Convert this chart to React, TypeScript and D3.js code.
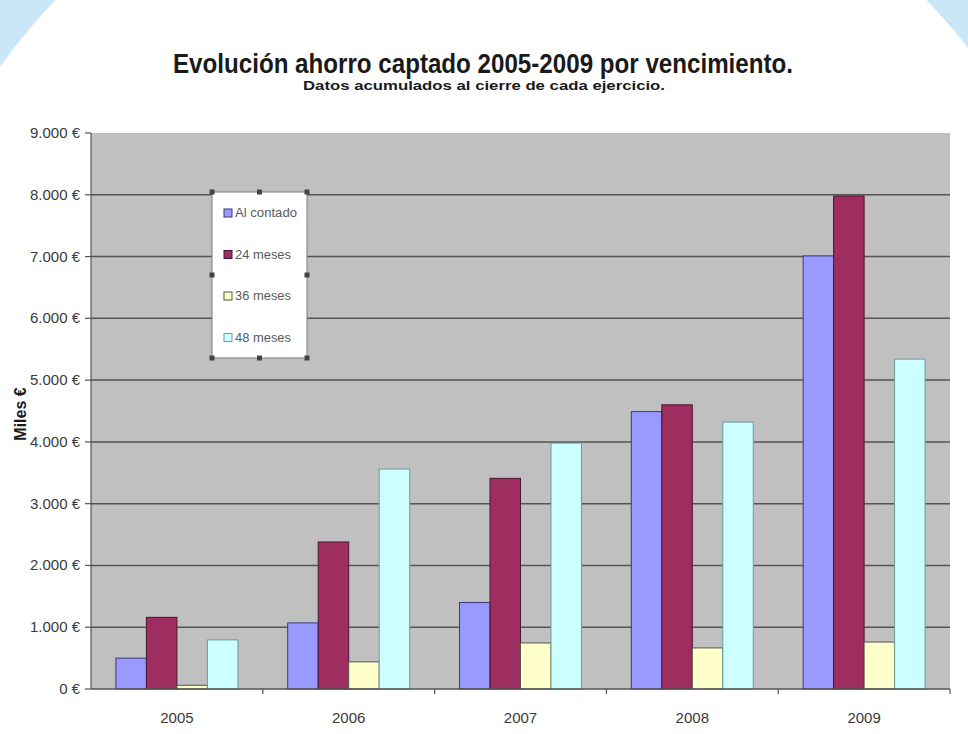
import * as d3 from 'd3';

const YEARS = ['2005', '2006', '2007', '2008', '2009'];
const SERIES = ['Al contado', '24 meses', '36 meses', '48 meses'];
const AL_CONTADO = [500, 1070, 1400, 4490, 7010];
const MESES_24 = [1160, 2380, 3410, 4600, 7980];
const MESES_36 = [60, 440, 745, 665, 760];
const MESES_48 = [795, 3560, 3980, 4320, 5340];
const Y_TICKS = [0, 1000, 2000, 3000, 4000, 5000, 6000, 7000, 8000, 9000];

const FILL = ['#9999ff', '#9e2e60', '#ffffcc', '#ccffff'];
const STROKE = ['#3a3a7a', '#4a1530', '#55554a', '#6f9a9a'];

const W = 968, H = 734;
const M = { left: 91, right: 950, top: 133, bottom: 689 };
const FONT = '"Liberation Sans", Arial, sans-serif';

export default function App() {
  const values = [AL_CONTADO, MESES_24, MESES_36, MESES_48];
  const x = d3.scaleBand<string>().domain(YEARS).range([M.left, M.right]).paddingInner(0.29).paddingOuter(0.145);
  const xs = d3.scaleBand<string>().domain(SERIES).range([0, x.bandwidth()]);
  const y = d3.scaleLinear().domain([0, 9000]).range([M.bottom, M.top]);
  const step = x.step();
  const fmt = (v: number) => d3.format(',')(v).replace(/,/g, '.') + ' €';

  return (
    <>
      <style>{`body{margin:0;}`}</style>
      <svg width={W} height={H} style={{ display: 'block', fontFamily: FONT }}>
        <rect width={W} height={H} fill="#c9e7f6" />
        <circle cx={491} cy={420} r={605} fill="#ffffff" />

        <text x={483} y={73} textAnchor="middle" fontSize={27} fontWeight="bold" fill="#1a1a1a"
          textLength={620} lengthAdjust="spacingAndGlyphs">
          Evolución ahorro captado 2005-2009 por vencimiento.
        </text>
        <text x={484} y={90} textAnchor="middle" fontSize={13} fontWeight="bold" fill="#1a1a1a"
          textLength={362} lengthAdjust="spacingAndGlyphs">
          Datos acumulados al cierre de cada ejercicio.
        </text>

        <rect x={M.left} y={M.top} width={M.right - M.left} height={M.bottom - M.top} fill="#c0c0c0" />
        {Y_TICKS.filter(t => t > 0 && t < 9000).map(t => (
          <line key={t} x1={M.left} x2={M.right} y1={y(t)} y2={y(t)} stroke="#555" strokeWidth={1.5} />
        ))}

        {YEARS.map((yr, i) => (
          <g key={yr}>
            {SERIES.map((s, j) => {
              const v = values[j][i];
              return (
                <rect key={s} x={(x(yr) ?? 0) + (xs(s) ?? 0)} y={y(v)} width={xs.bandwidth()}
                  height={M.bottom - y(v)} fill={FILL[j]} stroke={STROKE[j]} strokeWidth={1} />
              );
            })}
          </g>
        ))}

        <line x1={M.left} x2={M.left} y1={M.top} y2={M.bottom} stroke="#555" strokeWidth={1.2} />
        <line x1={M.left} x2={M.right} y1={M.bottom} y2={M.bottom} stroke="#555" strokeWidth={1.5} />
        {Y_TICKS.map(t => (
          <g key={t}>
            <line x1={M.left - 6} x2={M.left} y1={y(t)} y2={y(t)} stroke="#555" strokeWidth={1.2} />
            <text x={80} y={y(t) + 5} textAnchor="end" fontSize={15} fill="#3a3a3a">{fmt(t)}</text>
          </g>
        ))}
        {YEARS.map((yr, i) => (
          <g key={yr}>
            <line x1={M.left + step * (i + 1)} x2={M.left + step * (i + 1)} y1={M.bottom} y2={M.bottom + 5}
              stroke="#555" strokeWidth={1.2} />
            <text x={(x(yr) ?? 0) + x.bandwidth() / 2} y={723} textAnchor="middle" fontSize={15} fill="#3a3a3a">{yr}</text>
          </g>
        ))}

        <text transform="translate(26,414) rotate(-90)" textAnchor="middle" fontSize={16} fontWeight="bold" fill="#1a1a1a">
          Miles €
        </text>

        <g>
          <rect x={212} y={192} width={95} height={166} fill="#ffffff" stroke="#7a7a7a" strokeWidth={1} />
          {[[212, 192], [259.5, 192], [307, 192], [212, 275], [307, 275], [212, 358], [259.5, 358], [307, 358]].map(([hx, hy], k) => (
            <rect key={k} x={hx - 2.5} y={hy - 2.5} width={5} height={5} fill="#444" />
          ))}
          {SERIES.map((s, j) => (
            <g key={s} transform={`translate(224,${213 + j * 41.5})`}>
              <rect x={0} y={-4} width={8} height={8} fill={FILL[j]} stroke={STROKE[j]} strokeWidth={1} />
              <text x={11} y={4} fontSize={12} fill="#5a5a5a" textLength={s === 'Al contado' ? 62 : 56}
                lengthAdjust="spacingAndGlyphs">{s}</text>
            </g>
          ))}
        </g>
      </svg>
    </>
  );
}
